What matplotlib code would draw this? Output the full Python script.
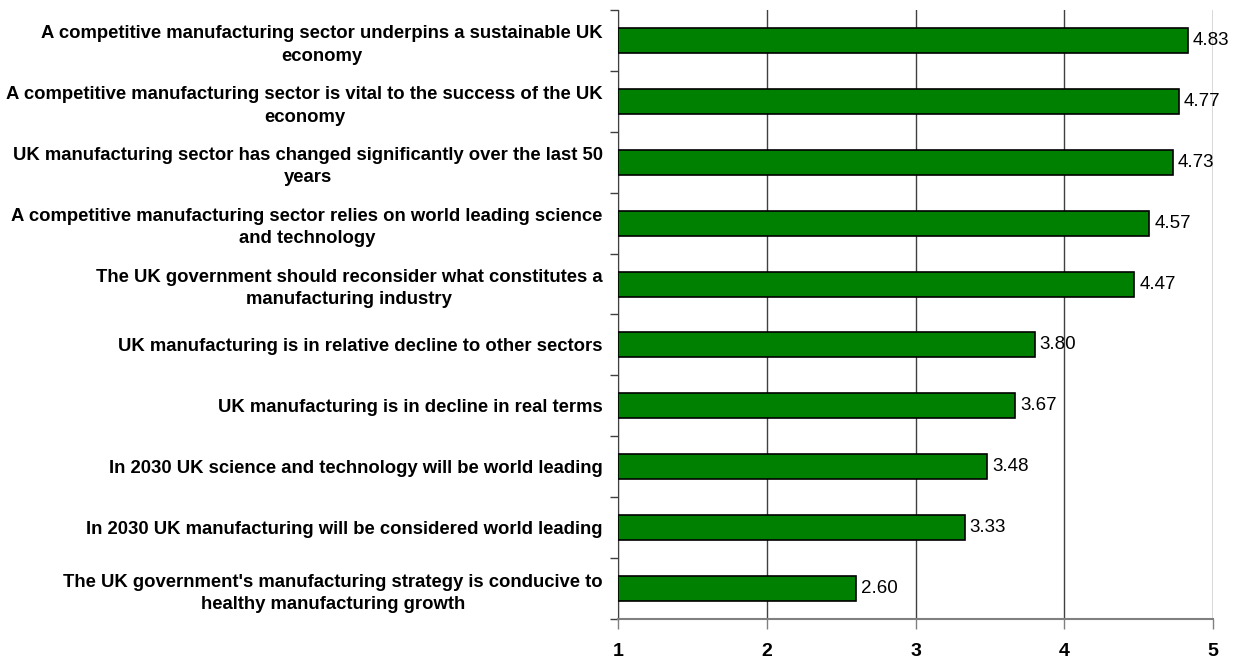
import matplotlib
matplotlib.use("Agg")
import matplotlib.pyplot as plt
import numpy as np

plt.rcParams['font.family'] = ['Liberation Sans', 'DejaVu Sans']

# Survey statements (top to bottom) and their mean agreement scores
statements = [
    "A competitive manufacturing sector underpins a sustainable UK\neconomy",
    "A competitive manufacturing sector is vital to the success of the UK\neconomy",
    "UK manufacturing sector has changed significantly over the last 50\nyears",
    "A competitive manufacturing sector relies on world leading science\nand technology",
    "The UK government should reconsider what constitutes a\nmanufacturing industry",
    "UK manufacturing is in relative decline to other sectors",
    "UK manufacturing is in decline in real terms",
    "In 2030 UK science and technology will be world leading",
    "In 2030 UK manufacturing will be considered world leading",
    "The UK government's manufacturing strategy is conducive to\nhealthy manufacturing growth",
]
scores = [4.83, 4.77, 4.73, 4.57, 4.47, 3.80, 3.67, 3.48, 3.33, 2.60]
x_ticks = [1, 2, 3, 4, 5]

fig = plt.figure(figsize=(12.34, 6.6), dpi=100)
ax = fig.add_axes([618 / 1234, 1 - 619 / 660, 595 / 1234, 609 / 660])

ypos = np.arange(len(statements))
base = 1
ax.barh(ypos, np.array(scores) - base, left=base, height=0.41,
        color='#008000', edgecolor='black', linewidth=1.2, zorder=3)

for y, v in zip(ypos, scores):
    ax.text(v + 0.035, y, f"{v:.2f}", va='center', ha='left', fontsize=13.5, zorder=4)

ax.set_xlim(1, 5)
ax.set_ylim(len(statements) - 0.5, -0.5)
ax.set_xticks(x_ticks)
ax.set_xticklabels([str(t) for t in x_ticks], fontsize=14, fontweight='bold')
ax.tick_params(axis='x', direction='out', length=7, width=1, color='#808080', pad=10)
ax.xaxis.grid(True, color='#404040', linewidth=1.0, zorder=0)

# Category labels: right-aligned block, lines centred inside it
ax.set_yticks(ypos)
ax.set_yticklabels(statements, fontsize=13.3, fontweight='bold', ha='right',
                   multialignment='center', linespacing=1.4)
ax.tick_params(axis='y', length=0, pad=11)
# boundary ticks between categories
ax.set_yticks(np.arange(-0.5, len(statements)), minor=True)
ax.tick_params(axis='y', which='minor', direction='out', length=6, width=1, color='#404040')

for side in ['top', 'right']:
    ax.spines[side].set_visible(False)
ax.spines['left'].set_color('#404040')
ax.spines['bottom'].set_color('#808080')
ax.spines['bottom'].set_linewidth(1.5)

fig.savefig("out.png", dpi=100)
